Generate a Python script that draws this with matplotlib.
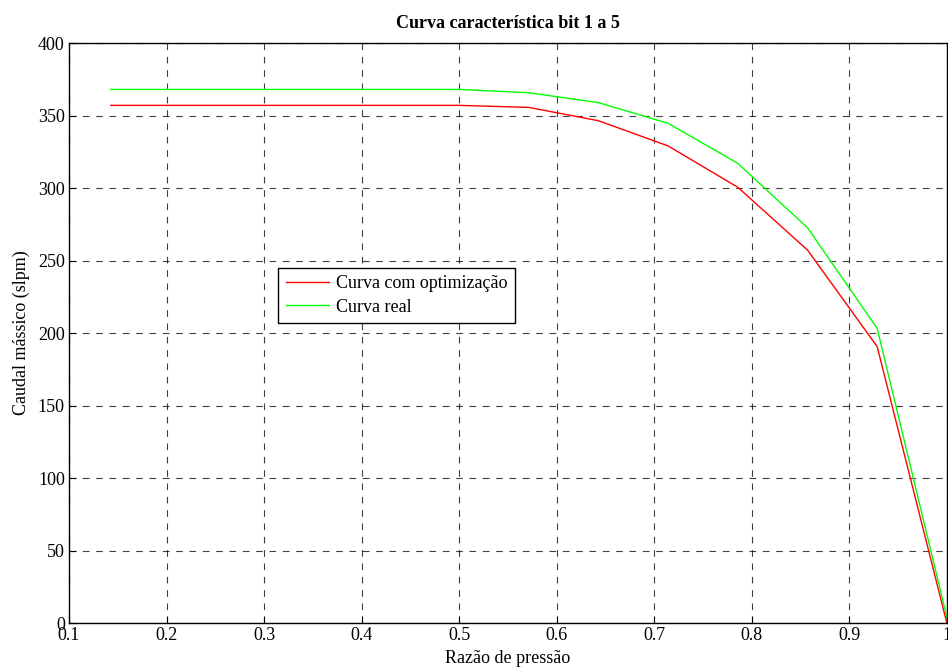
import matplotlib
matplotlib.use("Agg")
import matplotlib.pyplot as plt
from matplotlib.ticker import MultipleLocator

# Pressure ratio samples and mass flow for each curve
razao = [2/14, 3/14, 4/14, 5/14, 6/14, 7/14, 8/14, 9/14, 10/14, 11/14, 12/14, 13/14, 1.0]
caudal_optim = [357, 357, 357, 357, 357, 357, 355.6, 346.4, 329, 300.5, 257.2, 190.6, 0]
caudal_real = [368, 368, 368, 368, 368, 368, 365.7, 358.9, 344.6, 317, 272.6, 203.2, 4]

plt.rcParams['font.family'] = ['Liberation Serif', 'DejaVu Serif']

fig = plt.figure(figsize=(9.48, 6.7), dpi=100)
ax = fig.add_axes([0.0728, 0.0701, 0.926, 0.8657])

ax.plot(razao, caudal_optim, color='#ff0000', lw=1.0, label='Curva com optimização')
ax.plot(razao, caudal_real, color='#00ff00', lw=1.0, label='Curva real')

ax.set_xlim(0.1, 1.0)
ax.set_ylim(0, 400)
ax.xaxis.set_major_locator(MultipleLocator(0.1))
ax.yaxis.set_major_locator(MultipleLocator(50))
ax.set_xticklabels([f'{v:g}' for v in ax.get_xticks()])
ax.grid(True, color='black', linestyle=(0, (6, 6)), linewidth=0.8, alpha=0.75)
ax.tick_params(direction='in', length=5, labelsize=13, pad=3)
for s in ax.spines.values():
    s.set_linewidth(1.0)

ax.set_xlabel('Razão de pressão', fontsize=13, labelpad=4)
ax.set_ylabel('Caudal mássico (slpm)', fontsize=13, labelpad=6)
ax.set_title('Curva característica bit 1 a 5', fontsize=13, fontweight='bold', pad=11)

leg = ax.legend(loc='upper left', bbox_to_anchor=(0.2385, 0.612), fontsize=13,
                frameon=True, fancybox=False, edgecolor='black', framealpha=1,
                handlelength=2.4, borderpad=0.4, labelspacing=0.35, handletextpad=0.4,
                borderaxespad=0)
leg.get_frame().set_linewidth(1.0)

fig.savefig('out.png', dpi=100)
